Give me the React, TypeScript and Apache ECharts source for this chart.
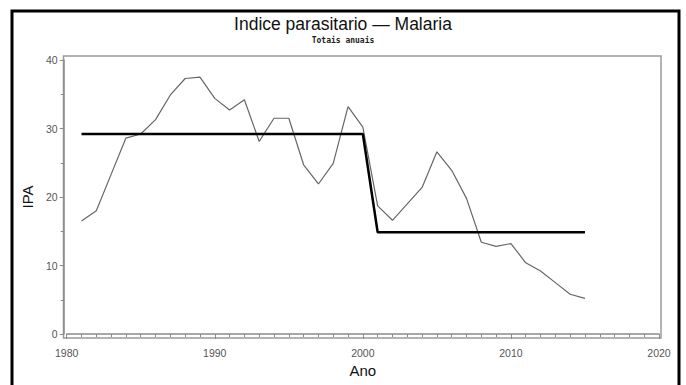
import React, { useEffect, useRef } from "react";
import * as echarts from "echarts";

const years: number[] = [
  1981, 1982, 1983, 1984, 1985, 1986, 1987, 1988, 1989, 1990,
  1991, 1992, 1993, 1994, 1995, 1996, 1997, 1998, 1999, 2000,
  2001, 2002, 2003, 2004, 2005, 2006, 2007, 2008, 2009, 2010,
  2011, 2012, 2013, 2014, 2015,
];
const ipa: number[] = [
  16.5, 18.0, 23.3, 28.6, 29.2, 31.3, 34.9, 37.3, 37.5, 34.4,
  32.7, 34.2, 28.1, 31.5, 31.5, 24.7, 21.9, 24.9, 33.2, 30.2,
  18.7, 16.6, 19.0, 21.4, 26.6, 23.9, 19.8, 13.4, 12.8, 13.2,
  10.4, 9.2, 7.5, 5.8, 5.2,
];
const periodMean: number[] = [
  29.2, 29.2, 29.2, 29.2, 29.2, 29.2, 29.2, 29.2, 29.2, 29.2,
  29.2, 29.2, 29.2, 29.2, 29.2, 29.2, 29.2, 29.2, 29.2, 29.2,
  14.85, 14.85, 14.85, 14.85, 14.85, 14.85, 14.85, 14.85, 14.85, 14.85,
  14.85, 14.85, 14.85, 14.85, 14.85,
];
const titleText = "Indice parasitario \u2014 Malaria";
const subtitleText = "Totais anuais";
const xName = "Ano";
const yName = "IPA";

export default function App() {
  const ref = useRef<HTMLDivElement>(null);
  useEffect(() => {
    if (!ref.current) return;
    const chart = echarts.init(ref.current, null, { renderer: "svg" });
    const axisGray = "#8a8a8a";
    const labelGray = "#555";
    chart.setOption({
      animation: false,
      backgroundColor: "#fff",
      title: [
        {
          text: titleText,
          left: "center",
          top: 16,
          padding: 0,
          textStyle: {
            fontSize: 17.5,
            lineHeight: 16,
            fontWeight: "normal",
            fontFamily: "Liberation Sans, Arial, sans-serif",
            color: "#111",
          },
        },
        {
          text: subtitleText,
          left: "center",
          top: 36.5,
          padding: 0,
          textStyle: {
            fontSize: 8,
            lineHeight: 8,
            fontWeight: "bold",
            fontFamily: "DejaVu Sans Mono, monospace",
            color: "#222",
          },
        },
      ],
      graphic: [
        {
          type: "rect",
          silent: true,
          shape: { x: 12, y: 11, width: 667, height: 400 },
          style: { fill: "none", stroke: "#000", lineWidth: 3 },
          z: 0,
        },
        {
          type: "rect",
          silent: true,
          shape: { x: 63.5, y: 56, width: 597.5, height: 282 },
          style: { fill: "none", stroke: "#9a9a9a", lineWidth: 1.5 },
          z: 0,
        },
      ],
      grid: { left: 66.7, right: 27, top: 60, bottom: 51, containLabel: false },
      xAxis: {
        type: "value",
        min: 1980,
        max: 2020,
        interval: 10,
        offset: 4,
        name: xName,
        nameLocation: "middle",
        nameGap: 24,
        nameTextStyle: {
          fontSize: 15,
          color: "#111",
          fontFamily: "Liberation Sans, Arial, sans-serif",
        },
        axisLine: { show: true, lineStyle: { color: axisGray, width: 1.5 } },
        axisTick: { show: true, length: 5, lineStyle: { color: axisGray } },
        minorTick: { show: true, splitNumber: 10, length: 3, lineStyle: { color: axisGray } },
        axisLabel: {
          margin: 9,
          fontSize: 10.5,
          color: labelGray,
          fontFamily: "Liberation Sans, Arial, sans-serif",
          formatter: (v: number) => String(v),
        },
        splitLine: { show: false },
      },
      yAxis: {
        type: "value",
        min: 0,
        max: 40,
        interval: 10,
        offset: 3,
        name: yName,
        nameLocation: "middle",
        nameGap: 27,
        nameTextStyle: {
          fontSize: 15,
          color: "#111",
          fontFamily: "Liberation Sans, Arial, sans-serif",
        },
        axisLine: { show: true, lineStyle: { color: axisGray, width: 1.5 } },
        axisTick: { show: true, length: 4, lineStyle: { color: axisGray } },
        minorTick: { show: true, splitNumber: 2, length: 3, lineStyle: { color: axisGray } },
        axisLabel: {
          margin: 6,
          fontSize: 10.5,
          color: labelGray,
          fontFamily: "Liberation Sans, Arial, sans-serif",
        },
        splitLine: { show: false },
      },
      series: [
        {
          type: "line",
          data: years.map((y, i) => [y, ipa[i]]),
          showSymbol: false,
          symbol: "none",
          lineStyle: { color: "#666", width: 1.2 },
          z: 2,
        },
        {
          type: "line",
          data: years.map((y, i) => [y, periodMean[i]]),
          showSymbol: false,
          symbol: "none",
          lineStyle: { color: "#000", width: 2.5 },
          z: 3,
        },
      ],
    });
    return () => chart.dispose();
  }, []);
  return (
    <div
      ref={ref}
      style={{ position: "fixed", left: 0, top: 0, width: 686, height: 385, background: "#fff" }}
    />
  );
}
